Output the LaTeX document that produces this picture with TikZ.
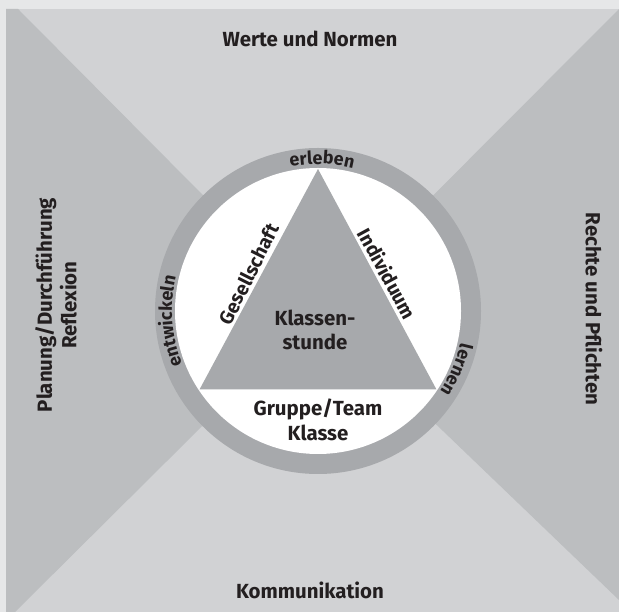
\documentclass[tikz,border=0pt]{standalone}
\usepackage{fontspec}
\setmainfont{Fira Sans}
\usetikzlibrary{decorations.text, calc, positioning}
\definecolor{rand}{HTML}{E6E7E8}
\definecolor{hell}{HTML}{D1D2D4}
\definecolor{mittel}{HTML}{BCBEC0}
\definecolor{dunkel}{HTML}{A7A9AC}
\definecolor{schrift}{HTML}{231F20}
\newcommand{\bigfont}{\fontsize{20.5}{24.5}\selectfont\bfseries}
\newcommand{\ringfont}{\fontsize{18}{20}\selectfont\bfseries\color{schrift}}

\begin{document}
\begin{tikzpicture}[x=1bp, y=1bp,
    txt/.style={font=\bigfont, text=schrift, align=center, inner sep=0pt},
    kante/.style={txt, font=\fontsize{19.5}{22}\selectfont\bfseries, anchor=south, inner sep=3.5bp},
    ringtext/.style={decorate, decoration={text along path, text align=center, text={|\ringfont|#1}}}]
  \useasboundingbox (0,0) rectangle (619,612);
  \fill[rand] (0,0) rectangle (619,612);
  % Mitte und Ecken
  \coordinate (o) at (318,301);
  \coordinate (tl) at (18,603);
  \coordinate (bl) at (15,0);
  \coordinate (br) at (619,12);
  \coordinate (tr) at (619,603);
  \fill[hell] (6,0) rectangle (619,603);
  \fill[mittel] (6,0) -- (bl) -- (o) -- (tl) -- (6,603) -- cycle;
  \fill[mittel] (tr) -- (o) -- (br) -- cycle;
  % Ring und Dreieck
  \fill[dunkel] (o) circle[radius=163];
  \fill[white] (o) circle[radius=143];
  \coordinate (a) at ($(o)+(90:142)$);
  \coordinate (b) at ($(o)+(213.5:142)$);
  \coordinate (c) at ($(o)+(-33.5:142)$);
  \fill[dunkel] (a) -- (b) -- (c) -- cycle;
  \path[ringtext=erleben] (o) ++(120:147) arc[start angle=120, end angle=57, radius=147];
  \path[ringtext=entwickeln] (o) ++(234:146) arc[start angle=234, end angle=134, radius=146];
  \path[ringtext=lernen] (o) ++(10:146) arc[start angle=10, end angle=-56, radius=146];
  \node[kante, rotate=63.3] (ges) at ($(b)!0.5!(a)$) {Gesellschaft};
  \node[kante, rotate=-61.5] (ind) at ($(a)!0.5!(c)$) {Individuum};
  \node[txt] (ks) at (315,282) {Klassen-\\stunde};
  \node[txt] (gt) at (318,192) {Gruppe/Team\\Klasse};
  % aussen
  \node[txt, anchor=base] (wn) at (310,565) {Werte und Normen};
  \node[txt, anchor=base] (ko) at (310,13) {Kommunikation};
  \node[txt, rotate=90] (pl) at (56,307) {Planung/Durchführung\\Reflexion};
  \node[txt, rotate=-90] (rp) at (594,303) {Rechte und Pflichten};
\end{tikzpicture}
\end{document}
